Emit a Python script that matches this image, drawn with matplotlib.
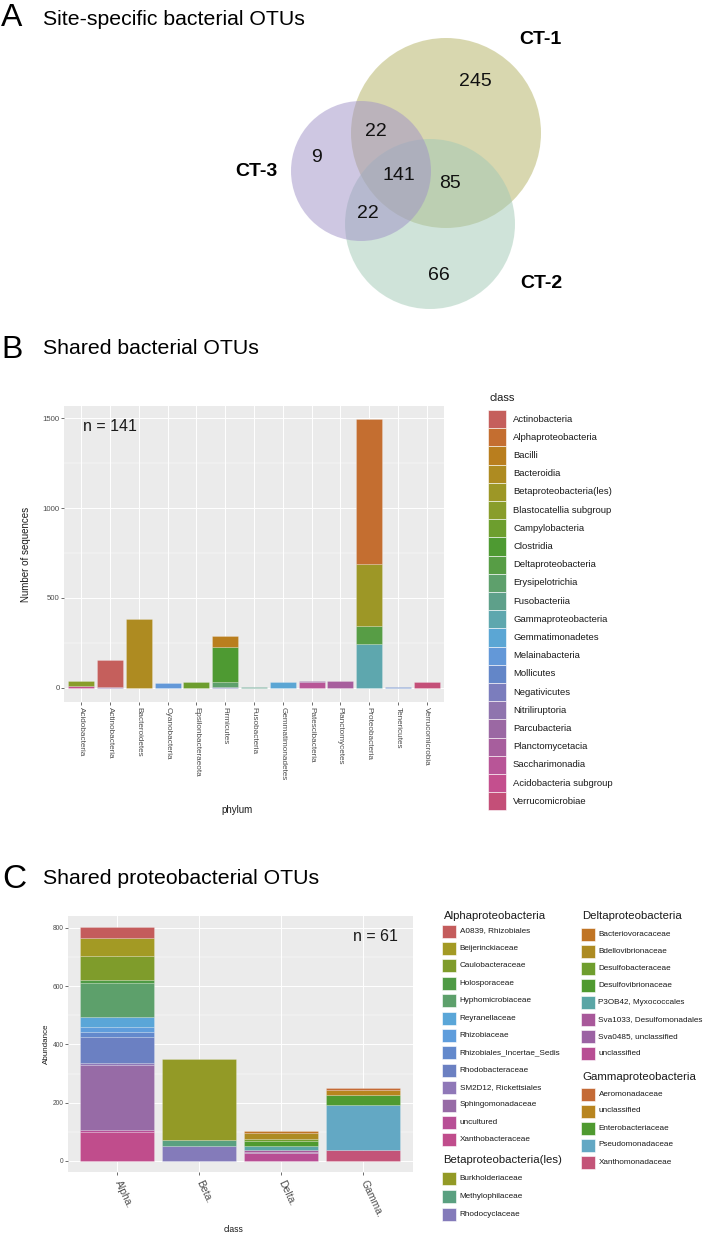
import numpy as np
import matplotlib
matplotlib.use("Agg")
import matplotlib.pyplot as plt
from matplotlib.patches import Circle, Rectangle

plt.rcParams['font.family'] = ['Liberation Sans', 'DejaVu Sans']

# ---- panel A: Venn counts
venn_sets = ["CT-1", "CT-2", "CT-3"]
venn_counts = [245, 22, 9, 141, 85, 22, 66]  # 1 only, 1&3, 3 only, all, 1&2, 2&3, 2 only

# ---- panel B: shared bacterial OTUs per phylum, split by class
phyla = ["Acidobacteria", "Actinobacteria", "Bacteroidetes", "Cyanobacteria",
         "Epsilonbacteraeota", "Firmicutes", "Fusobacteria", "Gemmatimonadetes",
         "Patescibacteria", "Planctomycetes", "Proteobacteria", "Tenericutes",
         "Verrucomicrobia"]
classes = ["Actinobacteria", "Alphaproteobacteria", "Bacilli", "Bacteroidia",
           "Betaproteobacteria(les)", "Blastocatellia subgroup", "Campylobacteria",
           "Clostridia", "Deltaproteobacteria", "Erysipelotrichia", "Fusobacteriia",
           "Gammaproteobacteria", "Gemmatimonadetes", "Melainabacteria", "Mollicutes",
           "Negativicutes", "Nitriliruptoria", "Parcubacteria", "Planctomycetacia",
           "Saccharimonadia", "Acidobacteria subgroup", "Verrucomicrobiae"]
class_colors = ["#c55f5c", "#c46e30", "#b97e1e", "#ae8b21", "#9d9726", "#899d2b",
                "#6d9e2e", "#4e9a32", "#579d45", "#5ea06c", "#5ea08a", "#5ea7ae",
                "#5ba6d4", "#6398d8", "#6386c8", "#7b7dbd", "#8f74ae", "#9b68a3",
                "#a75e9d", "#b85597", "#c44f8e", "#c44f78"]

acidobacteria = {"Acidobacteria subgroup": 10, "Blastocatellia subgroup": 30}
actinobacteria = {"Nitriliruptoria": 4, "Actinobacteria": 151}
bacteroidetes = {"Bacteroidia": 383}
cyanobacteria = {"Melainabacteria": 28}
epsilonbacteraeota = {"Campylobacteria": 33}
firmicutes = {"Negativicutes": 5, "Erysipelotrichia": 27, "Clostridia": 196, "Bacilli": 61}
fusobacteria = {"Fusobacteriia": 7}
gemmatimonadetes = {"Gemmatimonadetes": 34}
patescibacteria = {"Saccharimonadia": 31, "Parcubacteria": 8}
planctomycetes = {"Planctomycetacia": 40}
proteobacteria = {"Gammaproteobacteria": 244, "Deltaproteobacteria": 100,
                  "Betaproteobacteria(les)": 345, "Alphaproteobacteria": 806}
tenericutes = {"Mollicutes": 7}
verrucomicrobia = {"Verrucomicrobiae": 33}
phylum_data = [acidobacteria, actinobacteria, bacteroidetes, cyanobacteria,
               epsilonbacteraeota, firmicutes, fusobacteria, gemmatimonadetes,
               patescibacteria, planctomycetes, proteobacteria, tenericutes,
               verrucomicrobia]

# ---- panel C: shared proteobacterial OTUs per class, split by family
pclasses = ["Alpha.", "Beta.", "Delta.", "Gamma."]
alpha_fam = ["A0839, Rhizobiales", "Beijerinckiaceae", "Caulobacteraceae", "Holosporaceae",
             "Hyphomicrobiaceae", "Reyranellaceae", "Rhizobiaceae",
             "Rhizobiales_Incertae_Sedis", "Rhodobacteraceae", "SM2D12, Rickettsiales",
             "Sphingomonadaceae", "uncultured", "Xanthobacteraceae"]
alpha_vals = [36, 64, 83, 8, 118, 33, 17, 17, 92, 6, 223, 6, 100]
alpha_cols = ["#c45c5c", "#a39a24", "#7f9c2b", "#4f9b45", "#5da06b", "#5aa6d8", "#5f9ddc",
              "#6389cc", "#6b80c2", "#8f78b8", "#976ba6", "#b84f96", "#c04d8c"]
beta_fam = ["Burkholderiaceae", "Methylophilaceae", "Rhodocyclaceae"]
beta_vals = [276, 20, 53]
beta_cols = ["#939a26", "#5aa080", "#847bba"]
delta_fam = ["Bacteriovoracaceae", "Bdellovibrionaceae", "Desulfobacteraceae",
             "Desulfovibrionaceae", "P3OB42, Myxococcales", "Sva1033, Desulfomonadales",
             "Sva0485, unclassified", "unclassified"]
delta_vals = [6, 22, 5, 18, 14, 5, 4, 28]
delta_cols = ["#c07424", "#ad8b22", "#6f9e2e", "#4f9a30", "#5aa6a6", "#a8589a",
              "#9b62a3", "#b84e94"]
gamma_fam = ["Aeromonadaceae", "unclassified", "Enterobacteriaceae", "Pseudomonadaceae",
             "Xanthomonadaceae"]
gamma_vals = [6, 17, 34, 155, 37]
gamma_cols = ["#c46a36", "#b8851f", "#4f9a30", "#63a8c4", "#c35478"]

W, H = 705, 1236
fig = plt.figure(figsize=(W / 100, H / 100), dpi=100)


def px_axes(x0, y0, x1, y1):
    return fig.add_axes([x0 / W, 1 - y1 / H, (x1 - x0) / W, (y1 - y0) / H])


def gg_style(ax):
    ax.set_facecolor("#EBEBEB")
    for s in ax.spines.values():
        s.set_visible(False)
    ax.set_axisbelow(True)
    ax.grid(True, which="major", color="white", lw=0.7)
    ax.grid(True, which="minor", axis="y", color="white", lw=0.35)
    ax.tick_params(which="major", length=2.2, width=0.5, color="#333333", pad=1,
                   labelcolor="#4D4D4D")
    ax.tick_params(which="minor", length=0)


# ================= B
axb = px_axes(64, 406, 444, 702)
gg_style(axb)
x = np.arange(len(phyla))
for i, seg in enumerate(phylum_data):
    bottom = 0
    # ggplot stacks first factor level on top -> draw highest index first
    for cname in sorted(seg, key=lambda c: -classes.index(c)):
        v = seg[cname]
        axb.bar(i, v, 0.9, bottom=bottom, color=class_colors[classes.index(cname)],
                edgecolor=(1, 1, 1, 0.35), linewidth=0.4)
        bottom += v
axb.set_xlim(-0.6, len(phyla) - 0.4)
axb.set_ylim(-77.8, 1566.7)
axb.set_yticks([0, 500, 1000, 1500])
axb.set_yticks([250, 750, 1250], minor=True)
axb.set_xticks(x)
axb.set_xticklabels(phyla, rotation=270, fontsize=5.9, va="top", ha="center")
axb.tick_params(axis="x", pad=1.5)
axb.tick_params(axis="y", labelsize=5.6)
axb.text(0.05, 0.93, "n = 141", transform=axb.transAxes, fontsize=11.5, color="#1a1a1a",
         va="center")

# ================= C
axc = px_axes(68, 916, 413, 1172)
gg_style(axc)
groups = [(alpha_vals, alpha_cols), (beta_vals, beta_cols),
          (delta_vals, delta_cols), (gamma_vals, gamma_cols)]
for i, (vals, cols) in enumerate(groups):
    bottom = 0
    for v, c in zip(vals[::-1], cols[::-1]):
        axc.bar(i, v, 0.9, bottom=bottom, color=c, edgecolor=(1, 1, 1, 0.35), linewidth=0.4)
        bottom += v
axc.set_xlim(-0.6, 3.61)
axc.set_ylim(-37.8, 841)
axc.set_yticks([0, 200, 400, 600, 800])
axc.set_yticks([100, 300, 500, 700], minor=True)
axc.set_xticks(np.arange(len(pclasses)))
axc.set_xticklabels(pclasses, rotation=-65, fontsize=7.5, ha="left", va="center",
                    rotation_mode="anchor")
axc.tick_params(axis="x", pad=4)
axc.tick_params(axis="y", labelsize=4.8)
axc.text(0.955, 0.92, "n = 61", transform=axc.transAxes, fontsize=11.5, color="#1a1a1a",
         ha="right", va="center")

# ================= overlay: Venn, titles, legends
ov = fig.add_axes([0, 0, 1, 1])
ov.set_xlim(0, W)
ov.set_ylim(H, 0)
ov.axis("off")
ov.patch.set_alpha(0)

# Venn circles
ov.add_patch(Circle((446, 133), 95, color="#b3b161", alpha=0.5, lw=0))
ov.add_patch(Circle((430, 224), 85, color="#a1c9b5", alpha=0.5, lw=0))
ov.add_patch(Circle((361, 171), 70, color="#9f91c7", alpha=0.5, lw=0))
venn_pos = [(475, 82), (376, 131), (316, 158), (399, 175), (450, 183), (368, 213), (439, 275)]
for (vx, vy), n in zip(venn_pos, venn_counts):
    ov.text(vx, vy, str(n), fontsize=14, ha="center", va="center", color="#111111")
for (lx, ly), name in zip([(540, 39), (541, 284), (256, 172)], venn_sets):
    ov.text(lx, ly, name, fontsize=14, fontweight="bold", ha="center", va="center")

# panel titles
ov.text(1, 26, "A", fontsize=23, va="baseline")
ov.text(43, 25, "Site-specific bacterial OTUs", fontsize=15.3, va="baseline")
ov.text(1, 358, "B", fontsize=23, va="baseline")
ov.text(43, 354, "Shared bacterial OTUs", fontsize=15.3, va="baseline")
ov.text(2, 888, "C", fontsize=24, va="baseline")
ov.text(43, 884, "Shared proteobacterial OTUs", fontsize=15.3, va="baseline")

# axis titles
ov.text(26, 554, "Number of sequences", rotation=90, fontsize=7, ha="center", va="center",
        color="#1a1a1a")
ov.text(237, 810, "phylum", fontsize=7, ha="center", va="center", color="#1a1a1a")
ov.text(46, 1044, "Abundance", rotation=90, fontsize=5.8, ha="center", va="center",
        color="#1a1a1a")
ov.text(234, 1230, "class", fontsize=6.2, ha="center", va="center", color="#1a1a1a")

# legend B
ov.text(489, 398, "class", fontsize=8, va="center", color="#1a1a1a")
for k, (cname, col) in enumerate(zip(classes, class_colors)):
    y0 = 410 + k * 18.2
    ov.add_patch(Rectangle((488, y0), 18, 18.2, facecolor=col, edgecolor="white", lw=0.4))
    ov.text(513, y0 + 9.1, cname, fontsize=6.8, va="center", color="#1a1a1a")


# legend C
def legend_block(title, tx, ty, names, cols, kx, y_first, step):
    ov.text(tx, ty, title, fontsize=8.2, va="center", color="#1a1a1a")
    for k, (nm, c) in enumerate(zip(names, cols)):
        yc = y_first + k * step
        ov.add_patch(Rectangle((kx, yc - 6.5), 13.5, 13, facecolor=c, edgecolor="white",
                               lw=0.4))
        ov.text(kx + 17.5, yc, nm, fontsize=5.9, va="center", color="#1a1a1a")


legend_block("Alphaproteobacteria", 444, 916, alpha_fam, alpha_cols, 442, 931, 17.4)
legend_block("Betaproteobacteria(les)", 443, 1160, beta_fam, beta_cols, 442, 1178, 18.2)
legend_block("Deltaproteobacteria", 582, 916, delta_fam, delta_cols, 581, 934, 17.1)
legend_block("Gammaproteobacteria", 582, 1077, gamma_fam, gamma_cols, 581, 1094, 17.0)

fig.savefig("out.png", dpi=100)
